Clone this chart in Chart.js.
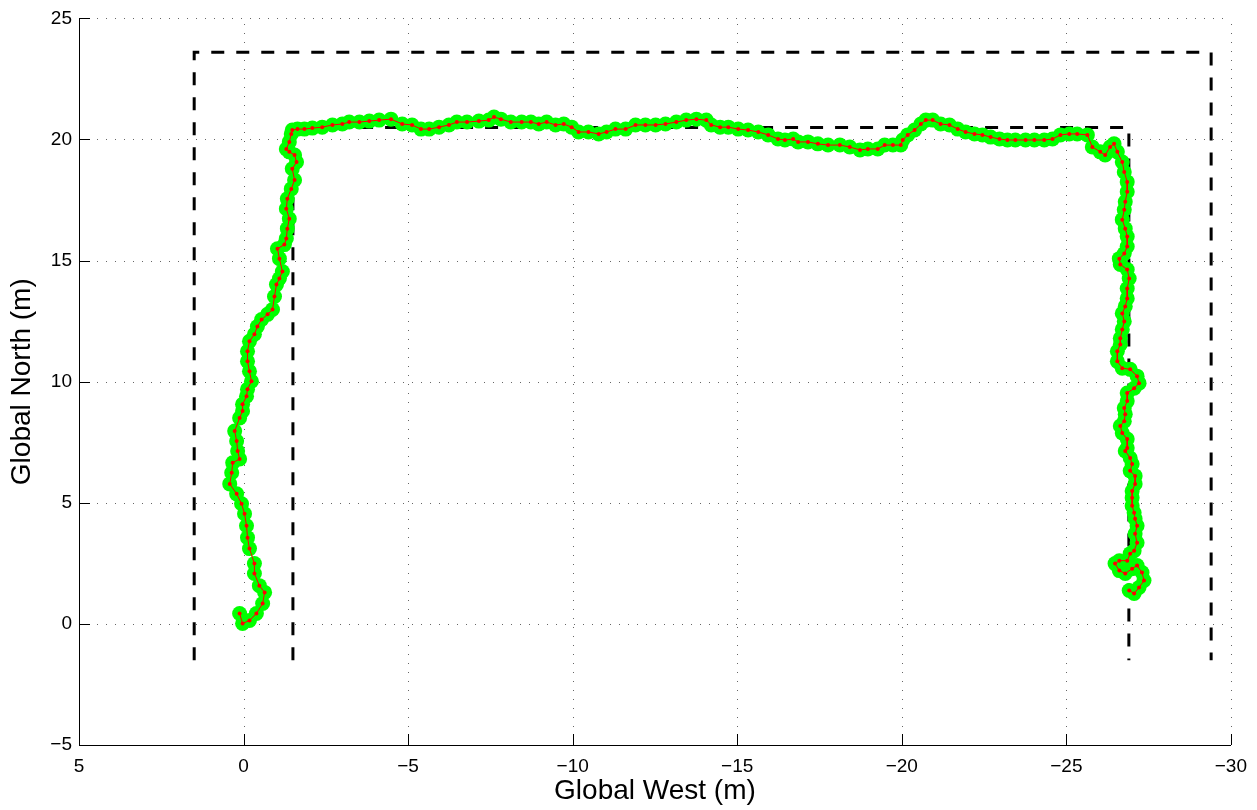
<!DOCTYPE html>
<html>
<head>
<meta charset="utf-8">
<script src="https://cdn.jsdelivr.net/npm/chart.js@4"></script>
<style>
    html, body { margin: 0; padding: 0; background: #fff; }
    #wrap { width: 1257px; height: 810px; }
</style>
</head>
<body>
<div id="wrap"><canvas id="chart" width="1257" height="810"></canvas></div>
<script>
// corridor walls (metres)
const outerWest = [1.5, 1.5, -29.4, -29.4];
const outerNorth = [-1.5, 23.6, 23.6, -1.5];
const innerWest = [-1.5, -1.5, -26.9, -26.9];
const innerNorth = [-1.5, 20.5, 20.5, -1.5];

// estimated track
const trackWest = [
    0.12, 0.03, -0.18, -0.39, -0.58, -0.64, -0.48, -0.33, -0.33, -0.18,
    -0.12, -0.09, -0.03, 0.06, 0.21, 0.42, 0.36, 0.33, 0.12, 0.18,
    0.21, 0.27, 0.12, 0.03, 0.03, -0.09, -0.12, -0.24, -0.18, -0.12,
    -0.12, -0.18, -0.33, -0.42, -0.55, -0.73, -0.88, -0.94, -1.00, -1.09,
    -1.18, -1.09, -1.03, -1.24, -1.30, -1.33, -1.39, -1.30, -1.33, -1.45,
    -1.55, -1.48, -1.61, -1.55, -1.39, -1.30, -1.39, -1.45, -1.48, -1.64,
    -1.85, -2.09, -2.39, -2.70, -3.00, -3.21, -3.52, -3.82, -4.12, -4.48,
    -4.82, -5.12, -5.39, -5.64, -5.94, -6.24, -6.48, -6.79, -7.15, -7.45,
    -7.61, -7.82, -8.12, -8.45, -8.73, -8.97, -9.21, -9.48, -9.73, -9.97,
    -10.18, -10.48, -10.79, -11.03, -11.30, -11.61, -11.91, -12.21, -12.52, -12.82,
    -13.15, -13.45, -13.76, -14.06, -14.21, -14.48, -14.73, -15.03, -15.33, -15.64,
    -15.94, -16.24, -16.45, -16.70, -16.85, -17.15, -17.45, -17.76, -18.12, -18.42,
    -18.73, -18.97, -19.27, -19.48, -19.73, -19.97, -20.03, -20.18, -20.39, -20.58,
    -20.73, -20.94, -21.18, -21.45, -21.70, -21.94, -22.21, -22.45, -22.70, -22.97,
    -23.21, -23.45, -23.76, -24.03, -24.33, -24.58, -24.82, -25.09, -25.33, -25.64,
    -25.79, -26.03, -26.18, -26.33, -26.45, -26.55, -26.70, -26.76, -26.85, -26.85,
    -26.79, -26.76, -26.70, -26.79, -26.85, -26.85, -26.76, -26.61, -26.64, -26.85,
    -26.91, -26.85, -26.85, -26.79, -26.70, -26.76, -26.70, -26.64, -26.64, -26.55,
    -26.55, -26.70, -26.94, -27.15, -27.21, -27.06, -26.85, -26.85, -26.76, -26.79,
    -26.76, -26.64, -26.70, -26.85, -26.85, -26.79, -26.94, -27.00, -26.94, -27.09,
    -27.09, -27.00, -27.00, -27.00, -27.06, -27.09, -27.15, -27.09, -27.15, -27.06,
    -26.94, -26.85, -26.61, -26.48, -26.61, -26.79, -27.00, -27.15, -27.30, -27.36,
    -27.21, -27.06, -26.91
];
const trackNorth = [
    0.43, 0.02, 0.14, 0.43, 0.84, 1.30, 1.58, 2.08, 2.49, 3.11,
    3.56, 4.05, 4.55, 4.96, 5.37, 5.78, 6.24, 6.65, 6.81, 7.14,
    7.55, 7.96, 8.50, 8.79, 9.07, 9.40, 9.69, 10.02, 10.43, 10.84,
    11.26, 11.67, 11.96, 12.28, 12.57, 12.78, 12.98, 13.52, 14.01, 14.26,
    14.55, 15.08, 15.49, 15.66, 15.91, 16.32, 16.73, 17.14, 17.55, 17.96,
    18.33, 18.79, 19.07, 19.36, 19.49, 19.61, 19.90, 20.23, 20.39, 20.43,
    20.43, 20.47, 20.51, 20.60, 20.64, 20.72, 20.72, 20.76, 20.80, 20.84,
    20.64, 20.60, 20.43, 20.43, 20.51, 20.60, 20.72, 20.72, 20.76, 20.80,
    20.93, 20.84, 20.72, 20.72, 20.72, 20.64, 20.72, 20.60, 20.64, 20.51,
    20.31, 20.31, 20.23, 20.31, 20.43, 20.43, 20.60, 20.60, 20.60, 20.64,
    20.72, 20.80, 20.84, 20.80, 20.60, 20.51, 20.51, 20.43, 20.39, 20.31,
    20.19, 20.02, 19.98, 20.02, 19.90, 19.90, 19.82, 19.77, 19.77, 19.69,
    19.57, 19.61, 19.61, 19.77, 19.77, 19.77, 19.98, 20.19, 20.39, 20.64,
    20.80, 20.80, 20.64, 20.60, 20.43, 20.31, 20.23, 20.19, 20.10, 20.02,
    19.98, 19.98, 19.98, 19.98, 19.98, 20.02, 20.19, 20.23, 20.23, 20.19,
    19.69, 19.49, 19.36, 19.69, 19.82, 19.49, 19.07, 18.66, 18.25, 17.84,
    17.43, 17.10, 16.69, 16.32, 15.99, 15.58, 15.29, 15.08, 14.84, 14.63,
    14.26, 13.85, 13.44, 13.11, 12.82, 12.49, 12.16, 11.79, 11.54, 11.26,
    10.84, 10.56, 10.51, 10.23, 9.94, 9.73, 9.53, 9.20, 8.91, 8.66,
    8.37, 8.17, 7.88, 7.63, 7.26, 7.14, 6.85, 6.60, 6.32, 6.11,
    5.78, 5.49, 5.21, 4.88, 4.59, 4.34, 4.05, 3.72, 3.35, 3.02,
    2.90, 2.61, 2.61, 2.49, 2.20, 2.08, 2.28, 2.41, 2.12, 1.79,
    1.50, 1.26, 1.38
];

const westTicks = [5, 0, -5, -10, -15, -20, -25, -30];
const northTicks = [-5, 0, 5, 10, 15, 20, 25];

const FONT = '"Liberation Sans", Arial, Helvetica, sans-serif';

function toPoints(xs, ys) {
    return xs.map((x, i) => ({ x: x, y: ys[i] }));
}

function minusSign(v) {
    return String(v).replace('-', '\u2212');
}

// dotted grid under the data, inward tick marks on top
const matlabAxes = {
    id: 'matlabAxes',
    beforeDatasetsDraw(chart) {
        const ctx = chart.ctx;
        const a = chart.chartArea;
        const xs = chart.scales.x, ys = chart.scales.y;
        ctx.save();
        ctx.strokeStyle = 'rgba(0,0,0,0.6)';
        ctx.lineWidth = 1;
        ctx.setLineDash([1, 8]);
        westTicks.forEach(t => {
            const px = Math.round(xs.getPixelForValue(t)) + 0.5;
            ctx.beginPath();
            ctx.moveTo(px, a.bottom);
            ctx.lineTo(px, a.top);
            ctx.stroke();
        });
        northTicks.forEach(t => {
            const py = Math.round(ys.getPixelForValue(t)) + 0.5;
            ctx.beginPath();
            ctx.moveTo(a.left, py);
            ctx.lineTo(a.right, py);
            ctx.stroke();
        });
        ctx.restore();
    },
    afterDraw(chart) {
        const ctx = chart.ctx;
        const a = chart.chartArea;
        const xs = chart.scales.x, ys = chart.scales.y;
        ctx.save();
        ctx.strokeStyle = '#000';
        ctx.lineWidth = 1;
        westTicks.forEach(t => {
            const px = Math.round(xs.getPixelForValue(t)) + 0.5;
            ctx.beginPath();
            ctx.moveTo(px, a.bottom);
            ctx.lineTo(px, a.bottom - 11);
            ctx.stroke();
        });
        northTicks.forEach(t => {
            const py = Math.round(ys.getPixelForValue(t)) + 0.5;
            ctx.beginPath();
            ctx.moveTo(a.left, py);
            ctx.lineTo(a.left + 11, py);
            ctx.stroke();
        });
        ctx.restore();
    }
};

const ctx = document.getElementById('chart').getContext('2d');
const chart = new Chart(ctx, {
    type: 'scatter',
    data: {
        datasets: [
            {
                // red estimate line, drawn on top
                data: toPoints(trackWest, trackNorth),
                showLine: true,
                borderColor: '#ff0000',
                borderWidth: 1,
                pointRadius: 2,
                pointBackgroundColor: '#ff0000',
                pointBorderWidth: 0,
                tension: 0
            },
            {
                data: toPoints(trackWest, trackNorth),
                showLine: false,
                pointRadius: 7.5,
                pointBackgroundColor: '#00ff00',
                pointBorderColor: '#00ff00',
                pointBorderWidth: 0
            },
            {
                data: toPoints(innerWest, innerNorth),
                showLine: true,
                borderColor: '#000',
                borderWidth: 3,
                borderDash: [13, 12],
                pointRadius: 0,
                tension: 0
            },
            {
                data: toPoints(outerWest, outerNorth),
                showLine: true,
                borderColor: '#000',
                borderWidth: 3,
                borderDash: [13, 12],
                pointRadius: 0,
                tension: 0
            }
        ]
    },
    options: {
        responsive: false,
        animation: false,
        events: [],
        layout: { padding: { top: 16, right: 23, left: 0, bottom: 0 } },
        plugins: {
            legend: { display: false },
            tooltip: { enabled: false }
        },
        scales: {
            x: {
                type: 'linear',
                reverse: true,
                min: -30,
                max: 5,
                afterBuildTicks: s => { s.ticks = westTicks.map(v => ({ value: v })); },
                afterFit: s => { s.height = 65; },
                grid: { display: false, drawTicks: false },
                border: { display: true, color: '#000', width: 1 },
                ticks: {
                    padding: 10,
                    color: '#000',
                    maxRotation: 0,
                    font: { family: FONT, size: 19 },
                    callback: v => minusSign(v)
                },
                title: {
                    display: true,
                    text: 'Global West (m)',
                    color: '#000',
                    padding: { top: 0, bottom: 2 },
                    font: { family: FONT, size: 28 }
                }
            },
            y: {
                type: 'linear',
                min: -5,
                max: 25,
                afterBuildTicks: s => { s.ticks = northTicks.map(v => ({ value: v })); },
                afterFit: s => { s.width = 79; },
                grid: { display: false, drawTicks: false },
                border: { display: true, color: '#000', width: 1 },
                ticks: {
                    padding: 7,
                    color: '#000',
                    font: { family: FONT, size: 19 },
                    callback: v => minusSign(v)
                },
                title: {
                    display: true,
                    text: 'Global North (m)',
                    color: '#000',
                    padding: { top: 5, bottom: 0 },
                    font: { family: FONT, size: 28 }
                }
            }
        }
    },
    plugins: [matlabAxes]
});
</script>
</body>
</html>
